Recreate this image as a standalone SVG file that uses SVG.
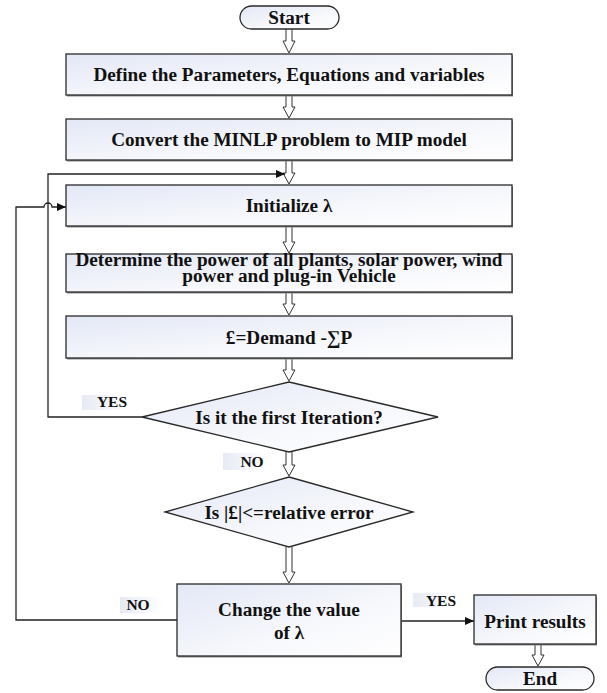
<svg xmlns="http://www.w3.org/2000/svg" width="607" height="693" viewBox="0 0 607 693">
<defs>
<linearGradient id="g" x1="0" y1="0" x2="1" y2="1">
<stop offset="0" stop-color="#e3e8f6"/>
<stop offset="0.6" stop-color="#f7f8fc"/>
<stop offset="1" stop-color="#ffffff"/>
</linearGradient>
<linearGradient id="lg" x1="0" y1="0" x2="1" y2="0">
<stop offset="0" stop-color="#e6eaf4"/>
<stop offset="1" stop-color="#ffffff"/>
</linearGradient>
<marker id="ah" markerWidth="9" markerHeight="8" refX="9" refY="4" orient="auto" markerUnits="userSpaceOnUse">
<path d="M0,0 L9,4 L0,8 Z" fill="#111"/>
</marker>
</defs>
<style>
.box{fill:url(#g);stroke:#2a2a2a;stroke-width:1.3}
.sh{fill:#8a8a8a}
.t{font-family:"Liberation Serif","Times New Roman",serif;font-weight:bold;font-size:19.2px;fill:#111;text-anchor:middle}
.lt{font-family:"Liberation Serif","Times New Roman",serif;font-weight:bold;font-size:15.5px;fill:#111;text-anchor:middle}
.lb{fill:url(#lg)}
.ha{fill:#fff;stroke:#333;stroke-width:1}
.ln{fill:none;stroke:#222;stroke-width:1.3}
</style>

<g id="connectors">
<path class="ha" d="M286,29 V41 H283 L289,53 L295,41 H292 V29"/>
<path class="ha" d="M286,95 V107 H283 L289,118 L295,107 H292 V95"/>
<path class="ha" d="M286,160 V173 H283 L289,184 L295,173 H292 V160"/>
<path class="ha" d="M286,226 V242 H283 L289,253 L295,242 H292 V226"/>
<path class="ha" d="M286,292 V304 H283 L289,315 L295,304 H292 V292"/>
<path class="ha" d="M286,358 V370 H283 L289,381 L295,370 H292 V358"/>
<path class="ha" d="M286,452 V465 H283 L289,476 L295,465 H292 V452"/>
<path class="ha" d="M286,547 V572 H283 L289,583 L295,572 H292 V547"/>
<path class="ha" d="M535,644 V655 H532 L538,666 L544,655 H541 V644"/>
<path class="ln" d="M142,417 H48 V174 H285" marker-end="url(#ah)"/>
<path class="ln" d="M177,620 H16 V207 H44 A4,4 0 0 1 52,207 H66" marker-end="url(#ah)"/>
<path class="ln" d="M401,621 H474" marker-end="url(#ah)"/>
<rect class="lb" x="82" y="395" width="46" height="15"/>
<text class="lt" x="112" y="407">YES</text>
<rect class="lb" x="223" y="453" width="44" height="17"/>
<text class="lt" x="252" y="467">NO</text>
<rect class="lb" x="120" y="597" width="43" height="16"/>
<text class="lt" x="138" y="610">NO</text>
<rect class="lb" x="413" y="593" width="44" height="14"/>
<text class="lt" x="441" y="606">YES</text>
</g>

<g id="start">
<rect class="box" x="240" y="6" width="99" height="23" rx="11.5"/>
<text class="t" x="289" y="24">Start</text>
</g>
<g id="define">
<rect class="sh" x="67" y="55.5" width="446" height="41"/>
<rect class="box" x="66" y="54" width="446" height="41"/>
<text class="t" x="289" y="81">Define the Parameters, Equations and variables</text>
</g>
<g id="convert">
<rect class="sh" x="67" y="120.5" width="446" height="41"/>
<rect class="box" x="66" y="119" width="446" height="41"/>
<text class="t" x="289" y="146">Convert the MINLP problem to MIP model</text>
</g>
<g id="init">
<rect class="sh" x="67" y="186.5" width="446" height="41"/>
<rect class="box" x="66" y="185" width="446" height="41"/>
<text class="t" x="289" y="212">Initialize λ</text>
</g>
<g id="determine">
<rect class="sh" x="67" y="255.5" width="446" height="38"/>
<rect class="box" x="66" y="254" width="446" height="38"/>
<text class="t" x="289" y="266">Determine the power of all plants, solar power, wind</text>
<text class="t" x="289" y="282">power and plug-in Vehicle</text>
</g>
<g id="demand">
<rect class="sh" x="67" y="317.5" width="446" height="42"/>
<rect class="box" x="66" y="316" width="446" height="42"/>
<text class="t" x="289" y="344">£=Demand -∑P</text>
</g>
<g id="firstiter">
<path class="box" d="M289,382 L438,417 L289,452 L142,417 Z"/>
<text class="t" x="289" y="424">Is it the first Iteration?</text>
</g>
<g id="relerr">
<path class="box" d="M289,477 L413,512 L289,547 L165,512 Z"/>
<text class="t" x="289" y="519">Is |£|&lt;=relative error</text>
</g>
<g id="change">
<rect class="sh" x="178" y="585.5" width="224" height="72"/>
<rect class="box" x="177" y="584" width="224" height="72"/>
<text class="t" x="289" y="616">Change the value</text>
<text class="t" x="289" y="639">of λ</text>
</g>
<g id="print">
<rect class="sh" x="475" y="596.5" width="122" height="49"/>
<rect class="box" x="474" y="595" width="122" height="49"/>
<text class="t" x="535" y="628">Print results</text>
</g>
<g id="end">
<rect class="box" x="486" y="667" width="108" height="23" rx="11.5"/>
<text class="t" x="540" y="685">End</text>
</g>
</svg>
